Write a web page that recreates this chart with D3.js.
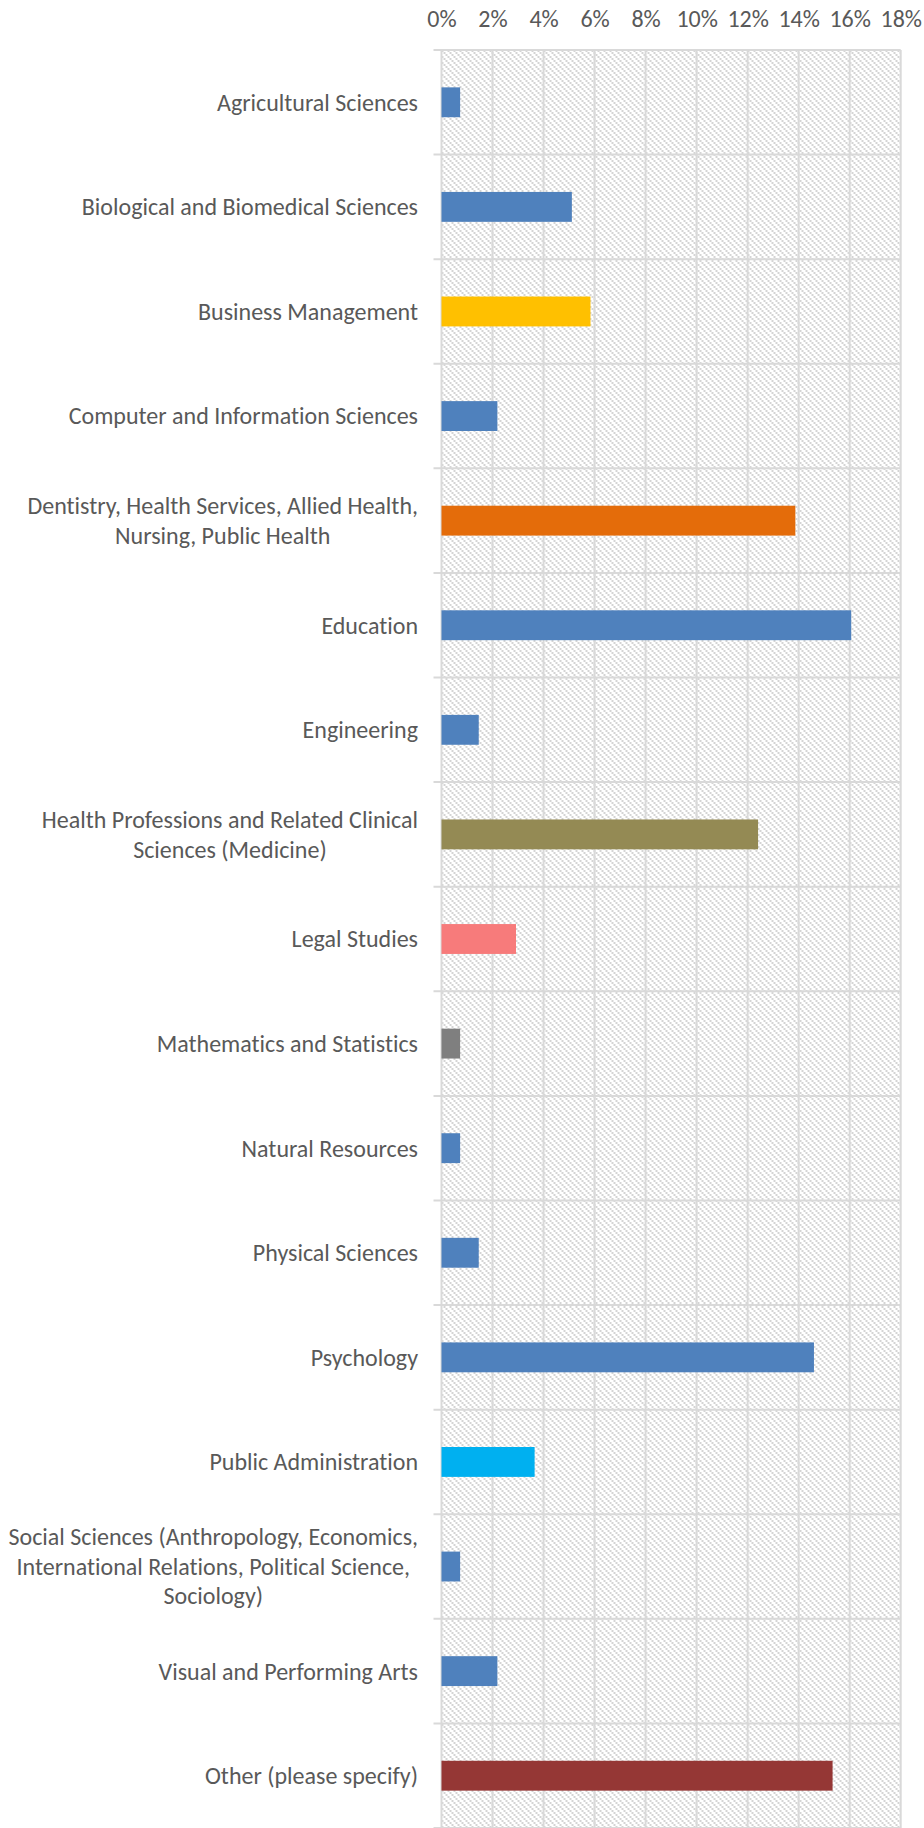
<!DOCTYPE html>
<html>
<head>
<meta charset="utf-8">
<script src="https://cdn.jsdelivr.net/npm/d3@7"></script>
<style>
  html, body { margin: 0; padding: 0; background: #ffffff; }
  svg { display: block; }
  text { font-family: Calibri, Carlito, Lato, "Open Sans", sans-serif; fill: #595959;
         font-variant-ligatures: none; font-feature-settings: "liga" 0, "clig" 0; }
</style>
</head>
<body>
<svg id="chart" width="924" height="1828"></svg>
<script>
// Fields of study, in display order (top to bottom)
const categories = [
  "Agricultural Sciences",
  "Biological and Biomedical Sciences",
  "Business Management",
  "Computer and Information Sciences",
  "Dentistry, Health Services, Allied Health, Nursing, Public Health",
  "Education",
  "Engineering",
  "Health Professions and Related Clinical Sciences (Medicine)",
  "Legal Studies",
  "Mathematics and Statistics",
  "Natural Resources",
  "Physical Sciences",
  "Psychology",
  "Public Administration",
  "Social Sciences (Anthropology, Economics, International Relations, Political Science, Sociology)",
  "Visual and Performing Arts",
  "Other (please specify)"
];

// Share of respondents, percent
const shares = [
  0.73, 5.11, 5.84, 2.19, 13.87, 16.06, 1.46, 12.41, 2.92,
  0.73, 0.73, 1.46, 14.60, 3.65, 0.73, 2.19, 15.33
];

// Axis ticks, percent
const xTicks = [0, 2, 4, 6, 8, 10, 12, 14, 16, 18];

// Bar fills by field
const barColors = {
  "Business Management": "#ffc000",
  "Dentistry, Health Services, Allied Health, Nursing, Public Health": "#e46c0a",
  "Health Professions and Related Clinical Sciences (Medicine)": "#948a54",
  "Legal Studies": "#f77b7b",
  "Mathematics and Statistics": "#7f7f7f",
  "Public Administration": "#00b0f0",
  "Other (please specify)": "#953735"
};
const defaultColor = "#4f81bd";

const rows = categories.map((c, i) => ({ name: c, value: shares[i] }));

const svg = d3.select("#chart");
const margin = { top: 50, right: 23.3, bottom: 0, left: 441.5 };
const width = 924 - margin.left - margin.right;
const height = 1828 - margin.top - margin.bottom;
const fontSize = "24px";

const x = d3.scaleLinear().domain([0, 18]).range([0, width]);
const y = d3.scaleBand().domain(categories).range([0, height]).padding(0);
const barH = y.bandwidth() / 3.5;

const defs = svg.append("defs");
const pat = defs.append("pattern")
  .attr("id", "hatch")
  .attr("patternUnits", "userSpaceOnUse")
  .attr("width", 6).attr("height", 6);
[0, 2, 4].forEach(k => {
  pat.append("rect").attr("x", k).attr("y", k).attr("width", 2).attr("height", 2)
    .attr("fill", "#d4d4d4");
});

const g = svg.append("g").attr("transform", `translate(${margin.left},${margin.top})`);

// hatched plot background
g.append("rect")
  .attr("x", 0).attr("y", 0)
  .attr("width", width).attr("height", height)
  .attr("fill", "url(#hatch)");

const gridColor = "#d9d9d9";

// vertical gridlines
g.append("g").selectAll("line").data(xTicks).join("line")
  .attr("x1", d => x(d)).attr("x2", d => x(d))
  .attr("y1", 0).attr("y2", height)
  .attr("stroke", gridColor).attr("stroke-width", 2);

// category boundaries with small ticks left of the axis
const bounds = categories.map(c => y(c)).concat([height]);
g.append("g").selectAll("line").data(bounds).join("line")
  .attr("x1", -8).attr("x2", width)
  .attr("y1", d => d).attr("y2", d => d)
  .attr("stroke", gridColor).attr("stroke-width", 2);

// top axis labels
const xAxis = d3.axisTop(x).tickValues(xTicks).tickFormat(d => d + "%").tickSize(0).tickPadding(0);
const ax = g.append("g").attr("transform", "translate(0,-23)").call(xAxis);
ax.select(".domain").remove();
ax.selectAll("text")
  .style("font-family", "Calibri, Carlito, Lato, 'Open Sans', sans-serif")
  .style("font-size", fontSize)
  .attr("fill", "#595959");

// bars
g.append("g").selectAll("rect").data(rows).join("rect")
  .attr("x", x(0))
  .attr("y", d => y(d.name) + (y.bandwidth() - barH) / 2)
  .attr("width", d => x(d.value) - x(0))
  .attr("height", barH)
  .attr("fill", d => barColors[d.name] || defaultColor);

// category labels, wrapped and centred on each band
const labelX = -23.5;
const lineH = 29.5;
const maxW = 432;
const labels = g.append("g");
rows.forEach(d => {
  const t = labels.append("text")
    .attr("text-anchor", "middle")
    .style("font-size", fontSize);
  const words = d.name.split(" ");
  const lines = [];
  let cur = [];
  const probe = t.append("tspan");
  words.forEach(w => {
    const trial = cur.concat([w]).join(" ");
    probe.text(trial);
    if (probe.node().getComputedTextLength() > maxW && cur.length) {
      lines.push(cur.join(" "));
      cur = [w];
    } else {
      cur.push(w);
    }
  });
  lines.push(cur.join(" "));
  probe.remove();
  const widths = lines.map(s => {
    const p = t.append("tspan").text(s);
    const w = p.node().getComputedTextLength();
    p.remove();
    return w;
  });
  const blockW = d3.max(widths);
  const cx = labelX - blockW / 2;
  const cy = y(d.name) + y.bandwidth() / 2;
  const first = cy - (lines.length - 1) * lineH / 2;
  lines.forEach((s, i) => {
    t.append("tspan")
      .attr("x", cx)
      .attr("y", first + i * lineH)
      .attr("dy", "0.35em")
      .text(s);
  });
});
</script>
</body>
</html>
